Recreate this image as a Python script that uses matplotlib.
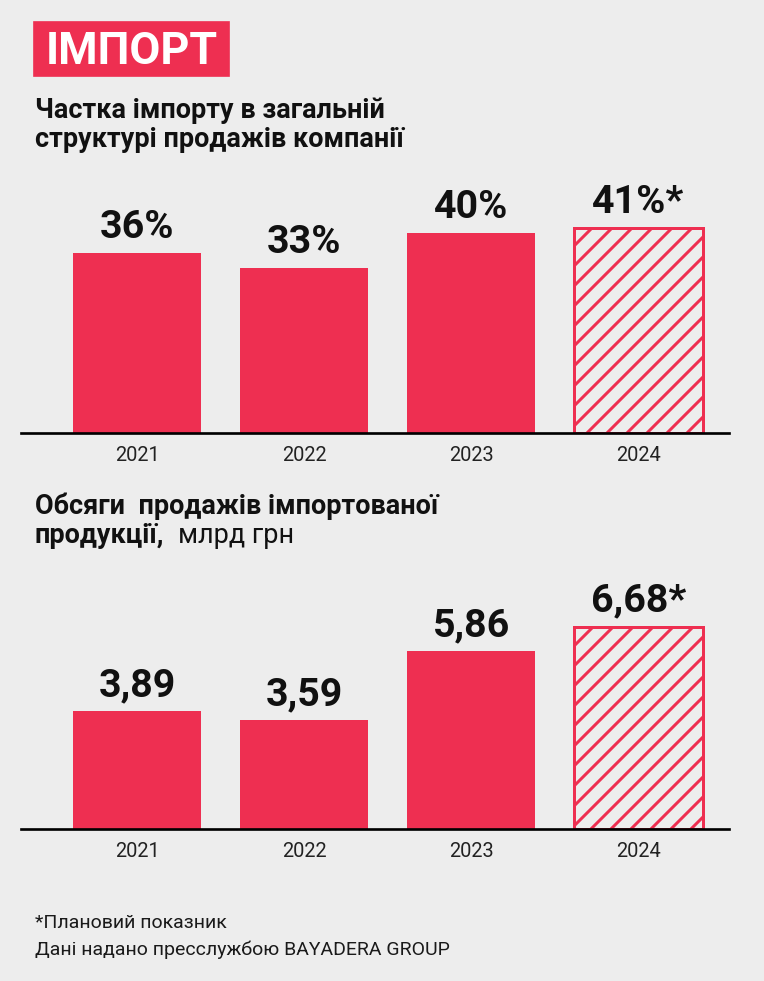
import matplotlib
matplotlib.use("Agg")
import matplotlib.pyplot as plt
import matplotlib.patches as patches

# дані
years = ["2021", "2022", "2023", "2024"]
share_vals = [36, 33, 40, 41]
share_labels = ["36%", "33%", "40%", "41%*"]
sales_vals = [3.89, 3.59, 5.86, 6.68]
sales_labels = ["3,89", "3,59", "5,86", "6,68*"]
planned = [False, False, False, True]

RED = "#EE2F51"
BG = "#EDEDED"
W, H = 764, 981
DPI = 120

plt.rcParams['font.family'] = ['Roboto', 'DejaVu Sans']
plt.rcParams['hatch.linewidth'] = 1.8

fig = plt.figure(figsize=(W / DPI, H / DPI), dpi=DPI, facecolor=BG)


def fx(px):
    return px / W


def fy(py):
    return 1 - py / H


def px2pt(px):
    return px * 72 / DPI


def make_axes(top, bottom, left=21, right=729):
    ax = fig.add_axes([fx(left), fy(bottom), fx(right - left), (bottom - top) / H])
    ax.set_facecolor("none")
    return ax


def draw_bars(ax, vals, labels, ymax):
    step = 167.17
    x = list(range(len(vals)))
    for i, v in enumerate(vals):
        if planned[i]:
            ax.bar(i, v, width=0.766, facecolor="none", edgecolor=RED,
                   linewidth=1.8, hatch="//", zorder=2)
        else:
            ax.bar(i, v, width=0.766, color=RED, linewidth=0, zorder=2)
        ax.annotate(labels[i], (i, v), xytext=(0, px2pt(15)),
                    textcoords="offset points", ha="center", va="baseline",
                    fontsize=23.6, fontweight="bold", color="#111111")
    ax.set_xlim((21 - 137) / step, (729 - 137) / step)
    ax.set_ylim(0, ymax)
    ax.set_xticks(x)
    ax.set_xticklabels(years, fontsize=12, color="#222222")
    ax.tick_params(axis="x", length=0, pad=7.5)
    ax.set_yticks([])
    for s in ["top", "right", "left"]:
        ax.spines[s].set_visible(False)
    ax.spines["bottom"].set_linewidth(1.6)
    ax.spines["bottom"].set_color("black")
    ax.spines["bottom"].set_zorder(3)


# заголовок
fig.patches.append(patches.Rectangle((fx(34), fy(76)), fx(229 - 34), (76 - 22) / H,
                                     transform=fig.transFigure, color=RED, zorder=0))
fig.text(fx(46), fy(64), "ІМПОРТ", color="white", fontsize=27, fontweight="bold",
         va="baseline", ha="left")

# перший графік
fig.text(fx(35), fy(118), "Частка імпорту в загальній", fontsize=16.2,
         fontweight="bold", va="baseline", color="#111111")
fig.text(fx(35), fy(147), "структурі продажів компанії", fontsize=16.2,
         fontweight="bold", va="baseline", color="#111111")
ax1 = make_axes(183, 433)
draw_bars(ax1, share_vals, share_labels, 50)

# другий графік
fig.text(fx(35), fy(514), "Обсяги  продажів імпортованої", fontsize=16.2,
         fontweight="bold", va="baseline", color="#111111")
t = fig.text(fx(35), fy(543), "продукції,", fontsize=16.2,
             fontweight="bold", va="baseline", color="#111111")
renderer = fig.canvas.get_renderer()
bb = t.get_window_extent(renderer=renderer)
fig.text(fx(bb.x1 + 14), fy(543), "млрд грн", fontsize=16.2,
         va="baseline", color="#111111")
ax2 = make_axes(579, 829)
draw_bars(ax2, sales_vals, sales_labels, 250 / 30.3)

# примітки
fig.text(fx(35), fy(928), "*Плановий показник", fontsize=11.7, va="baseline",
         color="#1a1a1a")
fig.text(fx(35), fy(955), "Дані надано пресслужбою BAYADERA GROUP", fontsize=11.7,
         va="baseline", color="#1a1a1a")

fig.savefig("out.png", dpi=DPI, facecolor=BG)
